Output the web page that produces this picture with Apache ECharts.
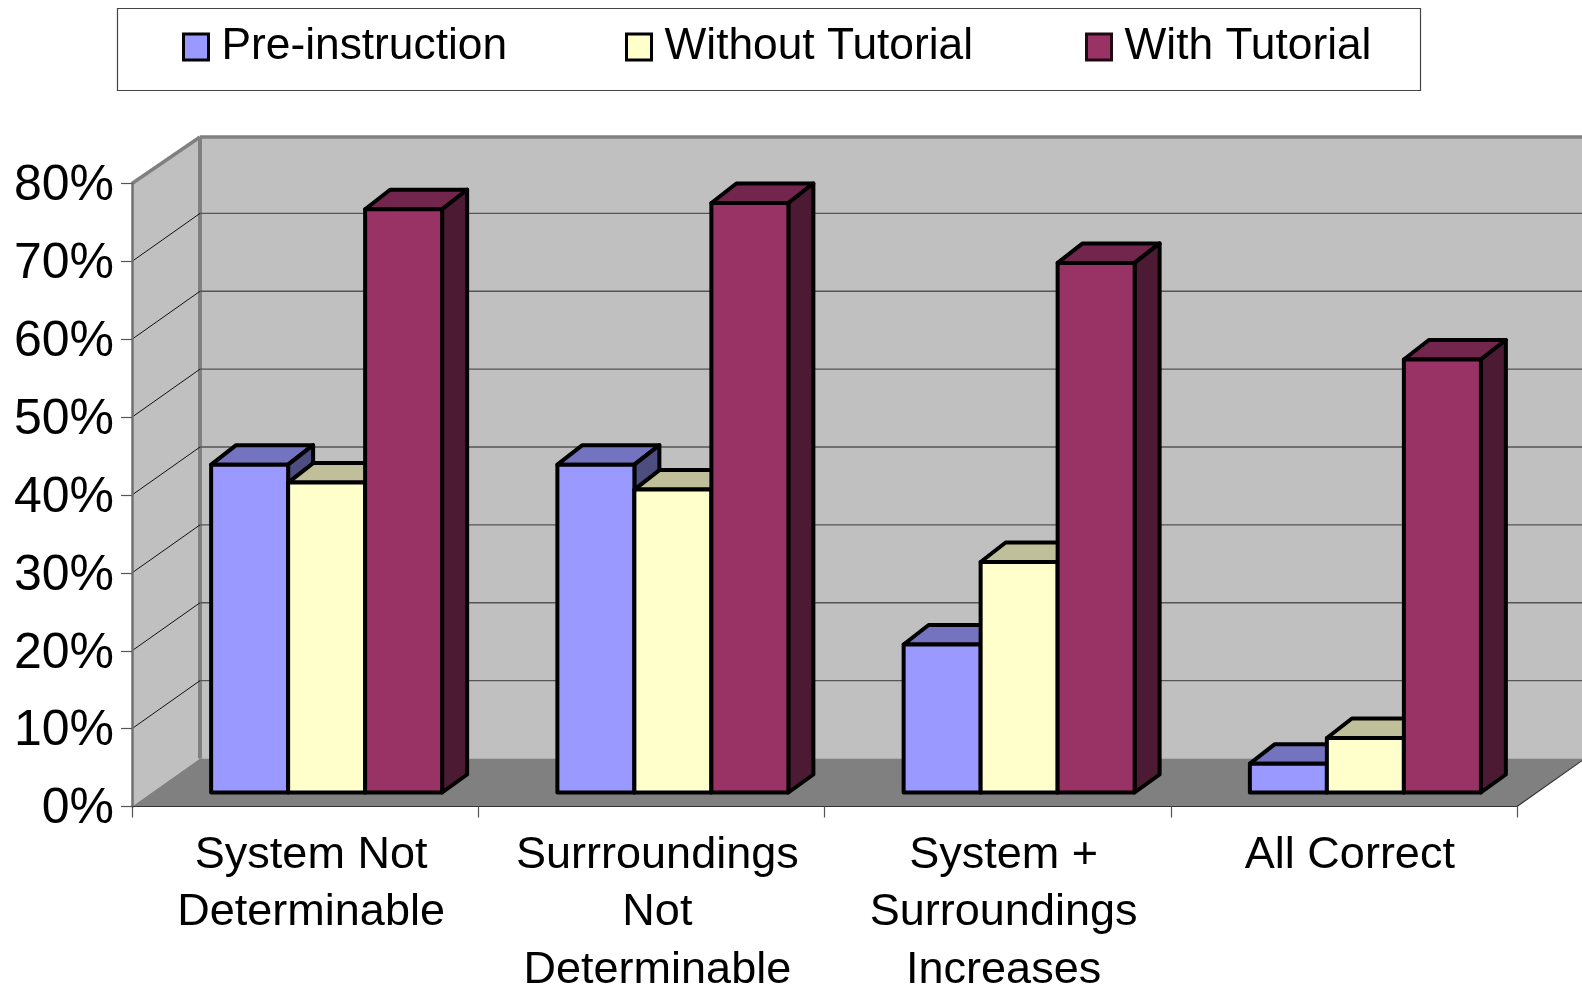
<!DOCTYPE html>
<html><head><meta charset="utf-8">
<style>html,body{margin:0;padding:0;background:#fff;overflow:hidden}#c{width:1582px;height:984px}</style>
<script src="https://cdn.jsdelivr.net/npm/echarts@6/dist/echarts.min.js"></script>
</head><body><div id="c"></div>
<script>
const categories = ['System Not\nDeterminable', 'Surrroundings\nNot\nDeterminable', 'System +\nSurroundings\nIncreases', 'All Correct'];
const preInstruction = [42.1, 42.1, 19, 3.7];
const withoutTutorial = [39.8, 38.9, 29.6, 7];
const withTutorial = [74.9, 75.7, 68, 55.6];
const wallTicks = [10, 20, 30, 40, 50, 60, 70];

const FONT = '"Liberation Sans", Arial, sans-serif';
const WALL_DX = 68, WALL_DY = 48;
const BAR_W = 77, BAR_SHIFT = 21.5, BASE_LIFT = 14, DEPTH_X = 25, DEPTH_TOP = 19.5, DEPTH_BASE = 18;

function wallsItem(params, api) {
  const g = params.coordSys;
  const L = g.x, R = g.x + g.width, T = g.y, B = g.y + g.height;
  const bl = L + WALL_DX, br = R + WALL_DX + 100, by = B - WALL_DY, bt = T - 46.5;
  const grey = '#808080';
  return { type: 'group', children: [
    { type: 'polygon', shape: { points: [[L, T], [bl, bt], [bl, by], [L, B]] }, style: { fill: '#C0C0C0' } },
    { type: 'rect', shape: { x: bl, y: bt, width: br - bl, height: by - bt }, style: { fill: '#C0C0C0' } },
    { type: 'polygon', shape: { points: [[L, B], [R, B], [R + WALL_DX, by], [br, by], [bl, by]] }, style: { fill: '#808080' } },
    { type: 'line', shape: { x1: bl, y1: bt, x2: br, y2: bt }, style: { stroke: grey, lineWidth: 3.5 } },
    { type: 'line', shape: { x1: bl, y1: bt, x2: bl, y2: by }, style: { stroke: grey, lineWidth: 4 } },
    { type: 'line', shape: { x1: L, y1: T, x2: bl, y2: bt }, style: { stroke: grey, lineWidth: 3.5 } },
    { type: 'line', shape: { x1: R, y1: B, x2: R + WALL_DX, y2: by }, style: { stroke: '#333', lineWidth: 1.2 } }
  ] };
}

function gridItem(params, api) {
  const g = params.coordSys;
  const y = api.coord([0, api.value(1)])[1];
  return { type: 'group', children: [
    { type: 'line', shape: { x1: g.x, y1: y, x2: g.x + WALL_DX, y2: y - WALL_DY }, style: { stroke: '#111', lineWidth: 1 } },
    { type: 'line', shape: { x1: g.x + WALL_DX, y1: y - WALL_DY, x2: g.x + g.width + 170, y2: y - WALL_DY }, style: { stroke: '#555', lineWidth: 1.4 } }
  ] };
}

function barRenderer(offset, front, top, side) {
  return function (params, api) {
    const i = api.value(0);
    const c = api.coord([i, api.value(1)]);
    const base = api.coord([i, 0])[1] - BASE_LIFT;
    const yT = c[1] - BASE_LIFT;
    const xL = c[0] + BAR_SHIFT + offset * BAR_W - BAR_W / 2;
    const xR = xL + BAR_W;
    const st = (fill) => ({ fill, stroke: '#000', lineWidth: 4, lineJoin: 'round' });
    return { type: 'group', children: [
      { type: 'polygon', shape: { points: [[xL, yT], [xL + DEPTH_X, yT - DEPTH_TOP], [xR + DEPTH_X, yT - DEPTH_TOP], [xR, yT]] }, style: st(top) },
      { type: 'polygon', shape: { points: [[xR, yT], [xR + DEPTH_X, yT - DEPTH_TOP], [xR + DEPTH_X, base - DEPTH_BASE], [xR, base]] }, style: st(side) },
      { type: 'rect', shape: { x: xL, y: yT, width: BAR_W, height: base - yT }, style: st(front) }
    ] };
  };
}

function toPairs(values) { return values.map((v, i) => [i, v]); }

function legendAt(name, left) {
  return {
    data: [name], left: left, top: 25, padding: 0, itemWidth: 25, itemHeight: 26, itemGap: 0,
    icon: 'rect', selectedMode: false,
    itemStyle: { borderColor: name === 'With Tutorial' ? '#1f0a14' : '#000', borderWidth: 3 },
    textStyle: { fontFamily: FONT, fontSize: 44.3, color: '#000', padding: [0, 0, 12, 8] }
  };
}

const chart = echarts.init(document.getElementById('c'), null, { renderer: 'canvas' });
chart.setOption({
  animation: false,
  backgroundColor: '#fff',
  graphic: [{ type: 'rect', silent: true, z: 0, shape: { x: 117.5, y: 8.5, width: 1303, height: 82 }, style: { fill: '#fff', stroke: '#444', lineWidth: 1.2 } }],
  legend: [legendAt('Pre-instruction', 182), legendAt('Without Tutorial', 625), legendAt('With Tutorial', 1085)],
  grid: { left: 132, top: 183.5, width: 1385, height: 623, outerBoundsMode: 'none', containLabel: false },
  xAxis: {
    type: 'category', data: categories, z: 1,
    axisLine: { lineStyle: { color: '#333', width: 1.2 } },
    axisTick: { show: true, alignWithLabel: false, length: 11, lineStyle: { color: '#555', width: 1.2 } },
    axisLabel: { interval: 0, margin: 20, fontFamily: FONT, fontSize: 45, lineHeight: 57.5, color: '#000', padding: [0, 0, 0, 12] }
  },
  yAxis: {
    type: 'value', min: 0, max: 80, interval: 10, z: 1,
    axisLine: { show: true, lineStyle: { color: '#707070', width: 2.5 } },
    axisTick: { show: true, length: 11, lineStyle: { color: '#555', width: 1.2 } },
    splitLine: { show: false },
    axisLabel: { margin: 18, fontFamily: FONT, fontSize: 50, lineHeight: 50, verticalAlign: 'top', color: '#000', padding: [-22, 0, 0, 0], formatter: '{value}%' }
  },
  series: [
    { type: 'custom', name: 'walls', silent: true, z: 0, data: [[0, 0]], renderItem: wallsItem, encode: { x: 0, y: 1 } },
    { type: 'custom', name: 'wallgrid', silent: true, z: 0, data: wallTicks.map(v => [0, v]), renderItem: gridItem, encode: { x: 0, y: 1 } },
    { type: 'custom', name: 'Pre-instruction', z: 2, itemStyle: { color: '#9999FF' }, data: toPairs(preInstruction), encode: { x: 0, y: 1 }, renderItem: barRenderer(-1, '#9999FF', '#7373BF', '#4D4D80') },
    { type: 'custom', name: 'Without Tutorial', z: 3, itemStyle: { color: '#FFFFCC' }, data: toPairs(withoutTutorial), encode: { x: 0, y: 1 }, renderItem: barRenderer(0, '#FFFFCC', '#BFBF99', '#808066') },
    { type: 'custom', name: 'With Tutorial', z: 4, itemStyle: { color: '#993366' }, data: toPairs(withTutorial), encode: { x: 0, y: 1 }, renderItem: barRenderer(1, '#993366', '#73264D', '#4D1A33') }
  ]
});
</script></body></html>
